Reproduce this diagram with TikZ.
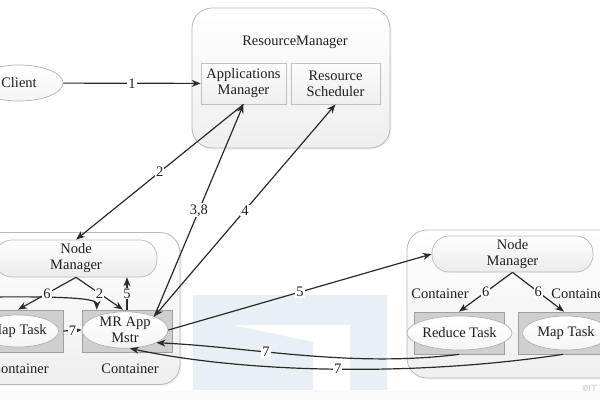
\documentclass[tikz,border=0pt]{standalone}
\usepackage{fontspec}
\setmainfont{Liberation Serif}
\usetikzlibrary{arrows.meta,shapes.geometric,shadows}
\definecolor{ln}{HTML}{2A2A2A}
\definecolor{wm}{HTML}{EAEFF5}
\begin{document}
\begin{tikzpicture}[x=1pt,y=-1pt,
  font=\fontsize{14.5}{16}\selectfont,
  txt/.style={text=black!88, inner sep=0pt, align=center},
  bigbox/.style={draw=gray!55, line width=0.8pt, rounded corners=20pt, top color=white, bottom color=gray!13,
    drop shadow={opacity=0.12, shadow xshift=1.5pt, shadow yshift=-1.5pt}},
  innerbox/.style={draw=gray!50, line width=0.7pt, top color=gray!2, bottom color=gray!13, align=center, inner sep=0pt, text=black!88,
    drop shadow={opacity=0.15, shadow xshift=1pt, shadow yshift=-1pt}},
  nmbox/.style={draw=gray!55, line width=0.7pt, rounded corners=17pt, top color=white, bottom color=gray!16, align=center, inner sep=0pt, text=black!88},
  cont/.style={draw=gray!75, line width=0.7pt, fill=gray!38, inner sep=0pt},
  task/.style={ellipse, draw=gray!60, line width=0.7pt, top color=white, bottom color=gray!8, align=center, inner sep=0pt, text=black!88},
  arr/.style={draw=ln, line width=1.2pt, -{Stealth[length=9pt,width=7pt]}},
  lbl/.style={fill=white, inner sep=1pt, text=black!88}]
\useasboundingbox (0,0) rectangle (600,400);
% background / watermark
\fill[gray!5] (0,391) rectangle (600,400);
\fill[wm, even odd rule] (193,295) rectangle (387,390)
  (233,325) -- (350,325) -- (350,390) -- (313,390) -- (313,342) -- cycle;
\node[txt, text=gray!45, font=\sffamily\fontsize{9}{10}\selectfont, anchor=west] (wmk) at (582,388) {@IT};

% ResourceManager
\node[bigbox, minimum width=198, minimum height=140] (rm) at (291,78) {};
\node[txt] (rmt) at (295,42) {ResourceManager};
\node[innerbox, minimum width=85, minimum height=41] (am) at (243.5,83.5) {Applications\\Manager};
\node[innerbox, minimum width=89, minimum height=41] (rs) at (335.5,83.5) {Resource\\Scheduler};

% Client
\node[task, minimum width=88, minimum height=36] (client) at (19,83) {Client};

% left node
\node[bigbox, minimum width=330, minimum height=152] (lbox) at (15,308.5) {};
\node[nmbox, minimum width=162, minimum height=37] (lnm) at (76,258.5) {Node\\Manager};
\node[cont, minimum width=90, minimum height=42] (lmapc) at (18,331) {};
\node[task, minimum width=80, minimum height=32] (lmap) at (18,331) {Map Task};
\node[txt] (lct1) at (20,369) {Container};
\node[cont, minimum width=90, minimum height=42] (mrc) at (127,331) {};
\node[task, minimum width=86, minimum height=32] (mr) at (125,330) {MR App\\Mstr};
\node[txt] (lct2) at (130,369) {Container};

% right node
\node[bigbox, minimum width=218, minimum height=148] (rbox) at (516,304) {};
\node[nmbox, minimum width=161, minimum height=36] (rnm) at (512.5,254) {Node\\Manager};
\node[txt] (rct1) at (440,294) {Container};
\node[txt] (rct2) at (580,294) {Container};
\node[cont, minimum width=90, minimum height=42] (redc) at (459,333) {};
\node[task, minimum width=87, minimum height=34] (red) at (459.5,333) {Reduce Task};
\node[cont, minimum width=92, minimum height=42] (mapc) at (564,333) {};
\node[task, minimum width=87, minimum height=34] (map) at (566,333) {Map Task};

% connectors
\coordinate (lft) at (-10,297);
\draw[arr] (client) -- node[lbl] {1} (am);
\draw[arr] (am.south) -- node[lbl] {2} (lnm.north);
\draw[arr] (mr.25) -- node[lbl] {3,8} (am.south);
\draw[arr, {Stealth[length=9pt,width=7pt]}-{Stealth[length=9pt,width=7pt]}] (rs.south) -- node[lbl] {4} (mr.25);
\draw[arr] (lft) .. controls (85,296) and (97,300) .. ([xshift=15pt]mrc.north west);
\draw[arr] (lnm.south) -- node[lbl] {6} (lmapc.north);
\draw[arr] (lnm.south) -- node[lbl] {2} ([xshift=-4pt]mrc.north);
\draw[arr] (mrc.north) -- node[lbl] {5} (mrc.north |- lnm.south);
\draw[arr] (lmapc.east) -- node[lbl] {7} (mr.west);
\draw[arr] (mr.east) -- node[lbl] {5} (rnm.west);
\draw[arr] (rnm.south) -- node[lbl] {6} (redc.north);
\draw[arr] (rnm.south) -- node[lbl] {6} (mapc.north);
\draw[arr] (redc.south) .. controls (350,368) and (250,347) .. node[lbl, pos=0.62] {7} (mr.-22);
\draw[arr] ([xshift=-1pt]mapc.south) .. controls (420,376) and (250,374) .. node[lbl, pos=0.5] {7} (mr.-75);
\end{tikzpicture}
\end{document}
